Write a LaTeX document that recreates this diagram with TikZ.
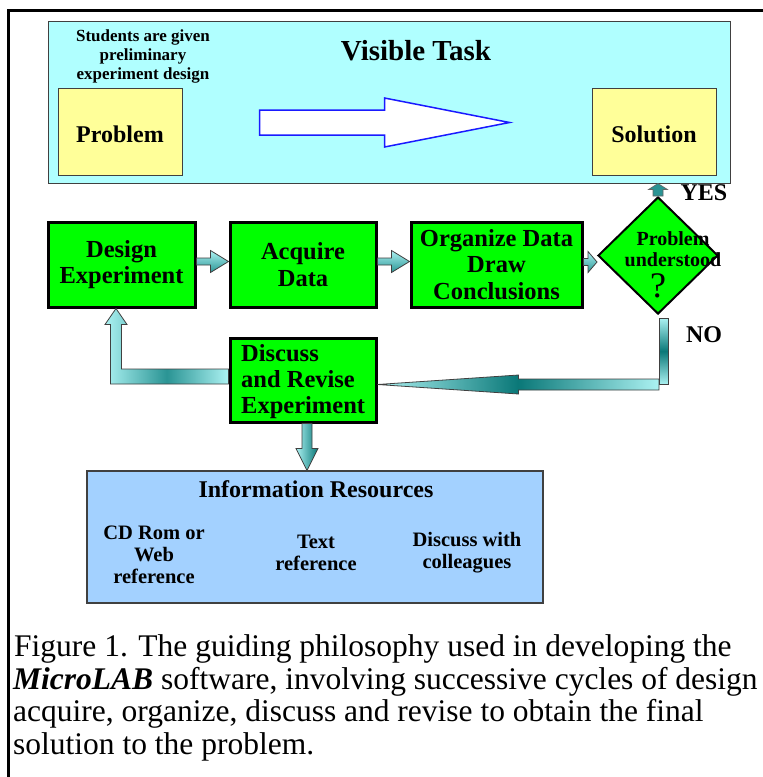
\documentclass[tikz,border=0pt]{standalone}
\usepackage{fontspec}
\setmainfont{Liberation Serif}
\usetikzlibrary{shapes.geometric,calc}

\definecolor{panelcyan}{HTML}{B0FFFF}
\definecolor{cardyellow}{HTML}{FFFF99}
\definecolor{stepgreen}{HTML}{00FF00}
\definecolor{infoblue}{HTML}{A3D1FF}
\definecolor{arrowblue}{HTML}{1A1AFF}
\definecolor{tealdark}{HTML}{0A7878}
\definecolor{tealmid}{HTML}{2A9494}
\definecolor{teallight}{HTML}{ACF2F2}
\definecolor{edgegray}{HTML}{404040}

\tikzset{
  panel/.style={draw=edgegray, line width=1pt, fill=panelcyan, inner sep=0pt},
  card/.style={draw=edgegray, line width=1pt, fill=cardyellow, inner sep=0pt,
    minimum width=124pt, minimum height=87pt, text height=22pt, text depth=0pt,
    font=\bfseries\fontsize{24}{27}\selectfont},
  stepbox/.style={draw=black, line width=3pt, fill=stepgreen, inner sep=0pt,
    minimum height=85pt, align=center,
    font=\bfseries\fontsize{24.5}{26.5}\selectfont},
  infobox/.style={draw=edgegray, line width=1.2pt, fill=infoblue, inner sep=0pt},
  boldtxt/.style={font=\bfseries\fontsize{#1}{#1}\selectfont, align=center, inner sep=0pt},
  smallarrow/.style={draw=black!75, line width=0.8pt, top color=teallight, bottom color=tealmid},
  loopback/.style={draw=black!75, line width=0.8pt, left color=teallight, right color=teallight, middle color=tealmid},
  noflow/.style={draw=black!75, line width=0.8pt, left color=teallight, right color=teallight, middle color=tealdark},
  nodrop/.style={draw=black!75, line width=0.8pt, top color=teallight, bottom color=teallight, middle color=tealdark},
  downflow/.style={draw=black!75, line width=0.8pt, left color=teallight, right color=tealdark},
  yesflow/.style={draw=black!60, line width=0.6pt, fill=tealmid},
}

% right-pointing block arrow: from, to, shaft half height, head half height, head length
\newcommand\rightblock[5]{%
  \path[smallarrow] let \p1=(#1), \p2=(#2) in
    (\x1,\y1+#3) -- (\x2-#5,\y1+#3) -- (\x2-#5,\y1+#4) -- (\x2,\y1)
    -- (\x2-#5,\y1-#4) -- (\x2-#5,\y1-#3) -- (\x1,\y1-#3) -- cycle;}

\begin{document}
\begin{tikzpicture}[x=1pt,y=-1pt]
\useasboundingbox (0,0) rectangle (763,777);
\clip (0,0) rectangle (763,777);
\fill[white] (0,0) rectangle (763,777);

% outer frame (left and top rules)
\draw[line width=3pt] (8,777) -- (8,10.5) -- (763,10.5);

% visible task panel
\node[panel, minimum width=682pt, minimum height=162pt] (task) at (389,102) {};
\node[boldtxt=17, font=\bfseries\fontsize{17}{19}\selectfont] (given) at (143,56)
  {Students are given\\preliminary\\experiment design};
\node[boldtxt=29] (vtitle) at (416,51) {Visible Task};
\node[card] (problem) at (120,131.5) {Problem};
\node[card] (solution) at (654,131.5) {Solution};

% hollow arrow from problem to solution
\coordinate (hs) at ($(problem.east)+(77,-9)$);
\coordinate (he) at ($(solution.west)+(-82,-9)$);
\draw[line width=1.5pt, draw=arrowblue, fill=white] let \p1=(hs), \p2=(he) in
  (\x1,\y1+12.5pt) -- (\x2-125pt,\y1+12.5pt) -- (\x2-125pt,\y1+24.5pt) -- (\x2,\y1)
  -- (\x2-125pt,\y1-24.5pt) -- (\x2-125pt,\y1-12.5pt) -- (\x1,\y1-12.5pt) -- cycle;

% cycle of steps
\node[stepbox, minimum width=147pt] (design) at (121.5,264.5) {Design\\Experiment};
\node[stepbox, minimum width=146pt] (acquire) at (303,264.5) {Acquire\\Data};
\node[stepbox, minimum width=171pt] (organize) at (496.5,264.5) {Organize Data\\Draw\\Conclusions};
\node[diamond, draw=black, line width=2pt, fill=stepgreen, minimum width=120pt,
  minimum height=117pt, inner sep=0pt] (q) at (658,255.5) {};
\node[boldtxt=20, font=\bfseries\fontsize{20}{21}\selectfont] (qtext) at (673,249) {Problem\\understood};
\node[font=\fontsize{36}{36}\selectfont, inner sep=0pt] (qmark) at (658,286) {?};
\node[stepbox, minimum width=146pt, minimum height=84pt] (discuss) at (303,380) {};
\node[boldtxt=24.5, font=\bfseries\fontsize{24.5}{26}\selectfont, align=left, anchor=west]
  (discusstext) at (241,382) {Discuss\\and Revise\\Experiment};

% information resources
\node[infobox, minimum width=456pt, minimum height=132pt] (info) at (315,537) {};
\node[boldtxt=24] (ititle) at (316,489) {Information Resources};
\node[boldtxt=20.5, font=\bfseries\fontsize{20.5}{22}\selectfont] (cd) at (154,555) {CD Rom or\\Web\\reference};
\node[boldtxt=20.5, font=\bfseries\fontsize{20.5}{22}\selectfont] (txt) at (316,553) {Text\\reference};
\node[boldtxt=20.5, font=\bfseries\fontsize{20.5}{22}\selectfont] (coll) at (467,553) {Discuss with\\colleagues};

% forward arrows
\coordinate (f1) at ($(design.east)+(0,-3)$);
\coordinate (f2) at ($(acquire.east)+(0,-3)$);
\coordinate (f3) at ($(organize.east)+(0,-2.5)$);
\rightblock{f1}{acquire.west|-f1}{3.5pt}{11pt}{18pt}
\rightblock{f2}{organize.west|-f2}{3.5pt}{11pt}{18pt}
\rightblock{f3}{q.west|-f3}{3.5pt}{10.5pt}{9pt}

% YES arrow up to the panel
\path[yesflow] let \p1=(q.north), \p2=(task.south) in
  (\x1-5pt,\y1) -- (\x1-5pt,\y2-6pt) -- (\x1-9.5pt,\y2-6pt) -- (\x1,\y2)
  -- (\x1+9.5pt,\y2-6pt) -- (\x1+5pt,\y2-6pt) -- (\x1+5pt,\y1) -- cycle;
\node[boldtxt=24] (yes) at (704,193) {YES};

% NO path back to discussion
\coordinate (n0) at ($(q.south)+(5.5,3)$);
\coordinate (n1) at ($(discuss.east)+(0,4.5)$);
\path[noflow] let \p1=(n1), \p2=(n0) in
  (\x1,\y1) -- (\x1+141pt,\y1+9.5pt) -- (\x1+141pt,\y1+5.5pt) -- (\x2-4.5pt,\y1+5.5pt)
  -- (\x2-4.5pt,\y1-5.5pt) -- (\x1+141pt,\y1-5.5pt) -- (\x1+141pt,\y1-9.5pt) -- cycle;
\path[nodrop] let \p1=(n0), \p2=(n1) in (\x1-4.5pt,\y1) rectangle (\x1+4.5pt,\y2);
\node[boldtxt=24] (no) at (704,335) {NO};

% loop back to design
\coordinate (b0) at ($(discuss.west)+(0,-3.5)$);
\coordinate (b1) at ($(design.south)+(-5.5,0)$);
\path[loopback] let \p1=(b1), \p2=(b0) in
  (\x2,\y2+7.5pt) -- (\x1+5.5pt,\y2+7.5pt) -- (\x1+5.5pt,\y1-16pt) -- (\x1+11pt,\y1-16pt)
  -- (\x1,\y1) -- (\x1-11pt,\y1-16pt) -- (\x1-5.5pt,\y1-16pt) -- (\x1-5.5pt,\y2-7.5pt)
  -- (\x2,\y2-7.5pt) -- cycle;

% down to information resources
\coordinate (dn) at ($(discuss.south)+(4,0)$);
\path[downflow] let \p1=(dn), \p2=(info.north) in
  (\x1-5pt,\y1) -- (\x1+5pt,\y1) -- (\x1+5pt,\y2+22pt) -- (\x1+11pt,\y2+22pt)
  -- (\x1,\y2) -- (\x1-11pt,\y2+22pt) -- (\x1-5pt,\y2+22pt) -- cycle;

% caption
\begin{scope}[every node/.style={anchor=base west, inner sep=0pt, font=\fontsize{31.5}{33}\selectfont}]
\node (cap1) at (14,656) {Figure 1. The guiding philosophy used in developing the};
\node (cap2) at (13,689) {\textbf{\textit{MicroLAB}} software, involving successive cycles of design};
\node (cap3) at (13,721) {acquire, organize, discuss and revise to obtain the final};
\node (cap4) at (13,754) {solution to the problem.};
\end{scope}
\end{tikzpicture}
\end{document}
